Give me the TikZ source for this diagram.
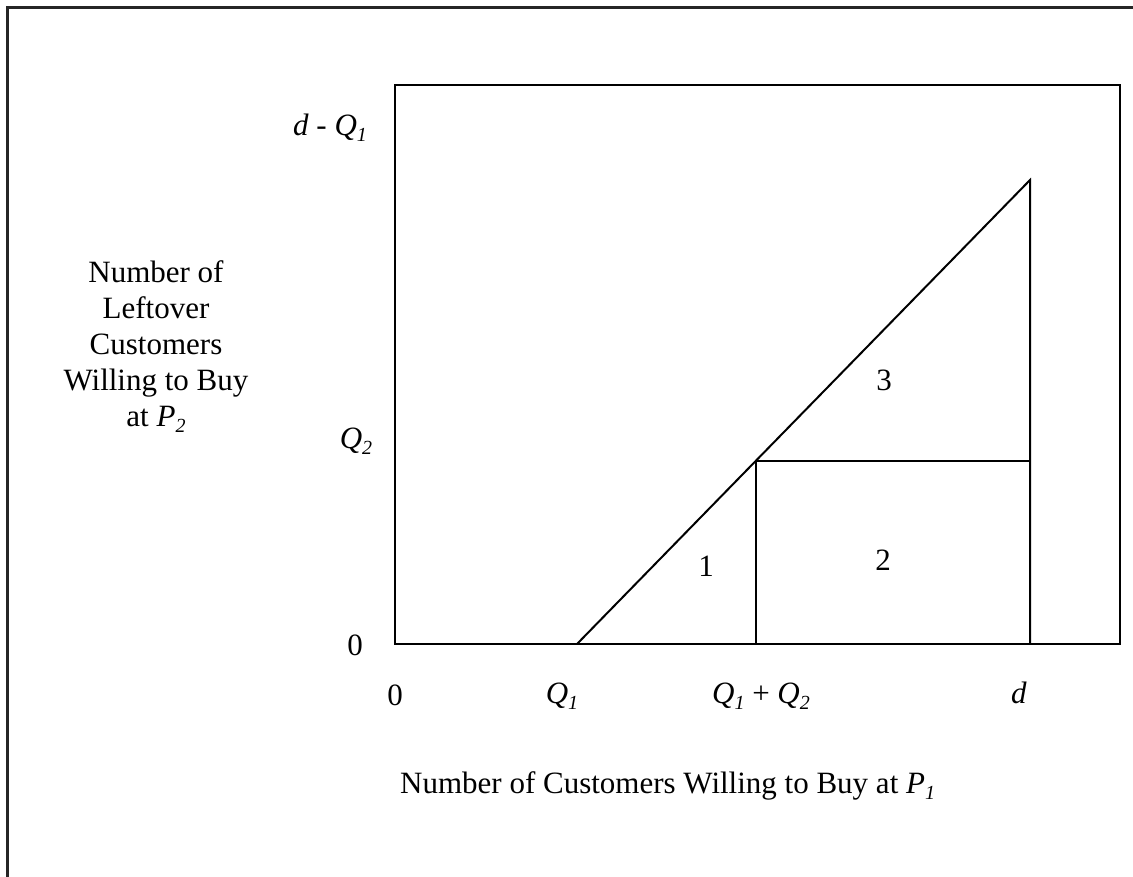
\documentclass[tikz,border=0pt]{standalone}
\usepackage{fontspec}
\setmainfont{Liberation Serif}
\newcommand{\sbi}[1]{\raisebox{-0.22em}{\fontsize{20}{20}\selectfont\textit{#1}}}
\begin{document}
\begin{tikzpicture}[x=1pt,y=-1pt,
  lbl/.style={anchor=base,inner sep=0pt,font=\fontsize{31}{36}\selectfont},
  frameline/.style={line width=3pt,black!85},
  axisbox/.style={line width=2.4pt},
  geoline/.style={line width=2pt,line join=miter}]
\useasboundingbox (0,0) rectangle (1133,876);
% outer frame (cropped)
\draw[frameline] (7,880) -- (7,7) -- (1140,7);
% inner box
\draw[axisbox] (395,85) rectangle (1120,644);
% geometry
\coordinate (q1) at (577,644);
\coordinate (top) at (1030,180);
\coordinate (mid) at (756,461);
\coordinate (mb) at (756,644);
\coordinate (dm) at (1030,461);
\coordinate (db) at (1030,644);
\draw[geoline] (q1) -- (top) -- (db);
\draw[geoline] (mid) -- (mb);
\draw[geoline] (mid) -- (dm);
% y labels
\node[lbl] (ydq) at (330,135) {\textit{d} - \textit{Q}\sbi{1}};
\node[lbl] (yq2) at (356,448) {\textit{Q}\sbi{2}};
\node[lbl] (y0) at (355,655) {0};
% x labels
\node[lbl] (x0) at (395,705) {0};
\node[lbl] (xq1) at (562,703) {\textit{Q}\sbi{1}};
\node[lbl] (xq12) at (761,703) {\textit{Q}\sbi{1} + \textit{Q}\sbi{2}};
\node[lbl] (xd) at (1019,703) {\textit{d}};
% region numbers
\node[lbl] (r1) at (706,576) {1};
\node[lbl] (r2) at (883,570) {2};
\node[lbl] (r3) at (884,390) {3};
% axis titles
\node[lbl,anchor=base west] (xt) at (400,793) {Number of Customers Willing to Buy at \textit{P}\sbi{1}};
\node[lbl,anchor=north,align=center,yshift=0pt] (yt) at (156,260) {Number of\\Leftover\\Customers\\Willing to Buy\\at \textit{P}\sbi{2}};
\end{tikzpicture}
\end{document}
